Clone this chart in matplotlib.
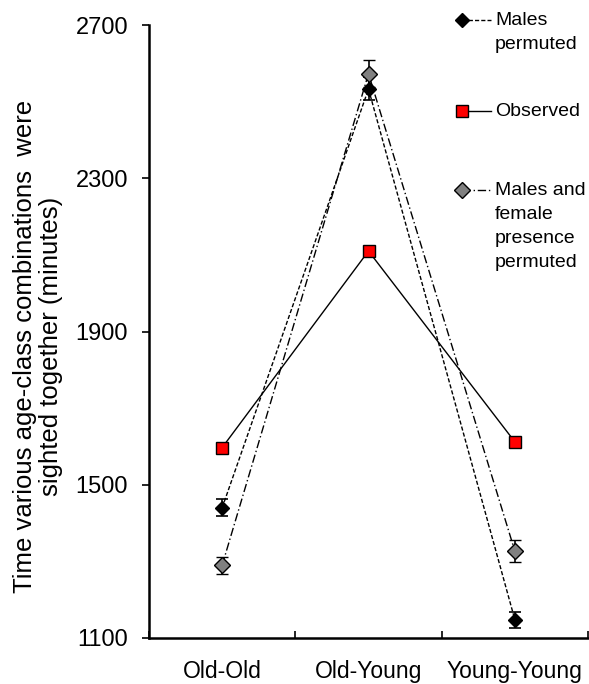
import matplotlib.pyplot as plt
from matplotlib.lines import Line2D

plt.rcParams['font.family'] = ['Liberation Sans', 'DejaVu Sans']

groups = ['Old-Old', 'Old-Young', 'Young-Young']
observed = [1597, 2110, 1612]
males_perm = [1440, 2533, 1148]
males_perm_err = [22, 30, 21]
mf_perm = [1290, 2573, 1327]
mf_perm_err = [22, 36, 28]

fig = plt.figure(figsize=(5.89, 6.84), dpi=100)
ax = fig.add_axes([149 / 589, 1 - 638 / 684, 439 / 589, 613 / 684])

x = [0.5, 1.5, 2.5]

ax.errorbar(x, males_perm, yerr=males_perm_err, color='black', ls=(0, (3, 1.5)),
            lw=1, marker='D', ms=7, mfc='black', mec='black', capsize=4.5,
            elinewidth=1.2, capthick=1.2, zorder=3)
ax.plot(x, observed, color='black', lw=1, marker='s', ms=9, mfc='#ff0000',
        mec='black', mew=1, zorder=4)
ax.errorbar(x, mf_perm, yerr=mf_perm_err, color='black', ls=(0, (6, 2, 1, 2)),
            lw=1, marker='D', ms=8, mfc='#808080', mec='black', mew=1,
            capsize=4.5, elinewidth=1.2, capthick=1.2, zorder=3)

ax.set_xlim(0, 3)
ax.set_ylim(1100, 2700)
ax.set_yticks([1100, 1500, 1900, 2300, 2700])
ax.set_xticks([0, 1, 2, 3])
ax.set_xticklabels([])
ax.set_xticks(x, minor=True)
ax.set_xticklabels(groups, minor=True, fontsize=16.5)
ax.tick_params(axis='x', which='minor', length=0, pad=16)
ax.tick_params(axis='x', which='major', direction='in', length=5, width=1.2)
ax.tick_params(axis='y', direction='out', length=5, width=1.2, labelsize=17, pad=10)
for s in ['top', 'right']:
    ax.spines[s].set_visible(False)
for s in ['left', 'bottom']:
    ax.spines[s].set_linewidth(1.8)

ax.set_ylabel('Time various age-class combinations  were\nsighted together (minutes)',
              fontsize=18.5, labelpad=9, linespacing=1.1)
ax.yaxis.label.set_y(0.475)

# key in the upper right corner
def key(y, ls, marker, mfc, ms, label):
    fig.add_artist(Line2D([462 / 589, 491 / 589], [1 - y / 684] * 2, color='black',
                          lw=1, ls=ls, transform=fig.transFigure))
    fig.add_artist(Line2D([462 / 589], [1 - y / 684], marker=marker, ms=ms, mfc=mfc,
                          mec='black', mew=1, transform=fig.transFigure))
    fig.text(495 / 589, 1 - (y - 8) / 684, label, fontsize=14, va='top', ha='left',
             linespacing=1.55)

key(20, (0, (3, 1.5)), 'D', 'black', 7, 'Males\npermuted')
key(111, '-', 's', '#ff0000', 9, 'Observed')
key(190, (0, (6, 2, 1, 2)), 'D', '#808080', 8, 'Males and\nfemale\npresence\npermuted')

fig.savefig('out.png', dpi=100)
